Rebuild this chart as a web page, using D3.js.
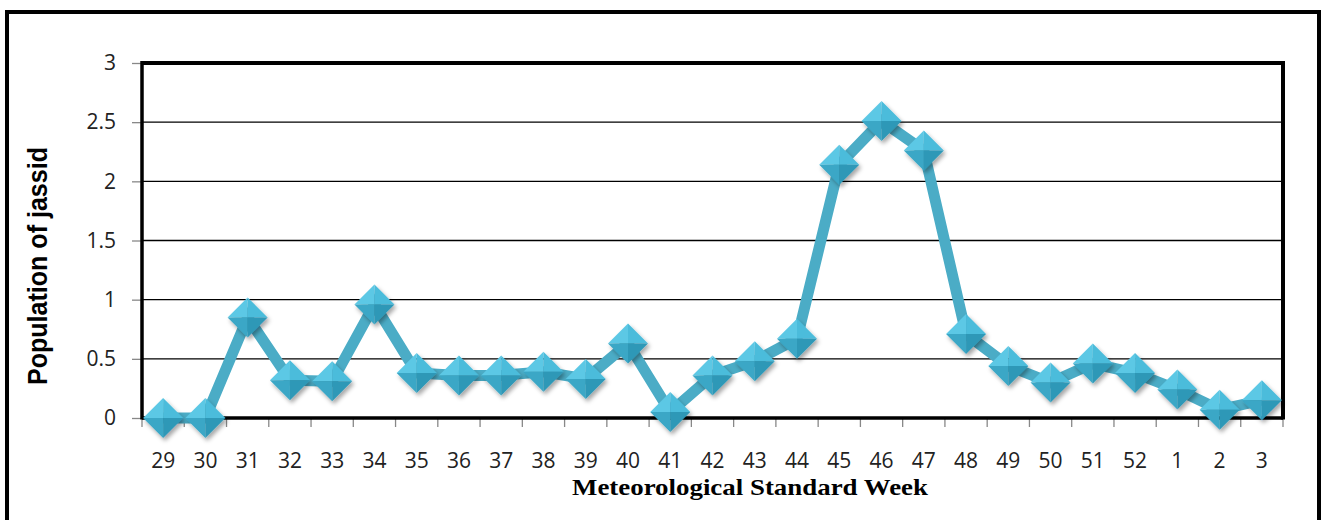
<!DOCTYPE html>
<html>
<head>
<meta charset="utf-8">
<script src="https://cdn.jsdelivr.net/npm/d3@7.9.0/dist/d3.min.js"></script>
<style>
  body { margin: 0; background: #fff; }
  svg { display: block; }
</style>
</head>
<body>
<svg id="chart"></svg>
<script>
// Weekly data (meteorological standard weeks)
const weeks = ["29","30","31","32","33","34","35","36","37","38","39","40","41","42","43","44","45","46","47","48","49","50","51","52","1","2","3"];
const jassid = [0, 0, 0.85, 0.32, 0.31, 0.96, 0.38, 0.36, 0.36, 0.39, 0.33, 0.63, 0.05, 0.36, 0.48, 0.67, 2.14, 2.51, 2.26, 0.71, 0.44, 0.30, 0.46, 0.38, 0.24, 0.07, 0.15];
const yTicks = [0, 0.5, 1, 1.5, 2, 2.5, 3];

const W = 1322, H = 520;
const margin = { top: 63, right: 39, bottom: 102, left: 142 };

const svg = d3.select("#chart").attr("width", W).attr("height", H);

// outer frame
svg.append("rect")
    .attr("x", 7).attr("y", 12)
    .attr("width", 1312).attr("height", 530)
    .attr("fill", "none").attr("stroke", "#000").attr("stroke-width", 4);

const x = d3.scaleBand().domain(weeks).range([margin.left, W - margin.right]).padding(0);
const y = d3.scaleLinear().domain([0, 3]).range([H - margin.bottom, margin.top]);

const defs = svg.append("defs");
const shadow = defs.append("filter").attr("id", "shadow")
    .attr("x", "-50%").attr("y", "-50%").attr("width", "200%").attr("height", "200%");
shadow.append("feDropShadow")
    .attr("dx", 2).attr("dy", 3).attr("stdDeviation", 2)
    .attr("flood-color", "#000").attr("flood-opacity", 0.35);

// gridlines
svg.append("g")
    .selectAll("line")
    .data(yTicks.filter(d => d > 0 && d < 3))
    .join("line")
    .attr("x1", margin.left).attr("x2", W - margin.right)
    .attr("y1", d => y(d)).attr("y2", d => y(d))
    .attr("stroke", "#000").attr("stroke-width", 1.3);

// y axis
const yAxis = svg.append("g")
    .attr("transform", `translate(${margin.left},0)`)
    .call(d3.axisLeft(y).tickValues(yTicks).tickSize(10).tickPadding(16).tickFormat(d3.format("")));
yAxis.select(".domain").remove();
yAxis.selectAll(".tick line").attr("stroke", "#888").attr("stroke-width", 1.3);
yAxis.selectAll("text")
    .attr("font-family", "'Open Sans', 'Noto Sans', sans-serif")
    .attr("font-size", 21).attr("fill", "#222");

// x axis labels
const xAxis = svg.append("g")
    .attr("transform", `translate(0,${y(0)})`)
    .call(d3.axisBottom(x).tickSize(0).tickPadding(35));
xAxis.select(".domain").remove();
xAxis.selectAll("text")
    .attr("font-family", "'Open Sans', 'Noto Sans', sans-serif")
    .attr("font-size", 21).attr("fill", "#222");

// x ticks at band edges
const edges = weeks.map(w => x(w)).concat([x.range()[1]]);
svg.append("g")
    .selectAll("line")
    .data(edges)
    .join("line")
    .attr("x1", d => d).attr("x2", d => d)
    .attr("y1", y(0)).attr("y2", y(0) + 9)
    .attr("stroke", "#888").attr("stroke-width", 1.3);

// plot frame
svg.append("line")
    .attr("x1", margin.left).attr("x2", W - margin.right)
    .attr("y1", y(3)).attr("y2", y(3))
    .attr("stroke", "#000").attr("stroke-width", 4);
svg.append("line")
    .attr("x1", W - margin.right).attr("x2", W - margin.right)
    .attr("y1", y(3) - 2).attr("y2", y(0) + 1.5)
    .attr("stroke", "#000").attr("stroke-width", 4);
svg.append("line")
    .attr("x1", margin.left).attr("x2", margin.left)
    .attr("y1", y(3) - 2).attr("y2", y(0) + 1.5)
    .attr("stroke", "#000").attr("stroke-width", 3.5);
svg.append("line")
    .attr("x1", margin.left).attr("x2", W - margin.right)
    .attr("y1", y(0)).attr("y2", y(0))
    .attr("stroke", "#000").attr("stroke-width", 3.5);

// series line
const pts = weeks.map((w, i) => [x(w) + x.bandwidth() / 2, y(jassid[i])]);
svg.append("path")
    .datum(pts)
    .attr("d", d3.line())
    .attr("fill", "none")
    .attr("stroke", "#4BACC6")
    .attr("stroke-width", 11)
    .attr("stroke-linejoin", "miter");

// diamond markers with bevel faces
const r = 20;
const faces = [
    { d: `M0,${-r} L${-r},0 L0,0 Z`, c: "#5CC8E5" },
    { d: `M0,${-r} L${r},0 L0,0 Z`, c: "#4CBCDB" },
    { d: `M${-r},0 L0,${r} L0,0 Z`, c: "#3AA7C6" },
    { d: `M${r},0 L0,${r} L0,0 Z`, c: "#2F98B7" }
];
const marks = svg.append("g")
    .selectAll("g")
    .data(pts)
    .join("g")
    .attr("transform", d => `translate(${d[0]},${d[1]})`)
    .attr("filter", "url(#shadow)");
marks.selectAll("path")
    .data(faces)
    .join("path")
    .attr("d", f => f.d)
    .attr("fill", f => f.c);

// axis titles
svg.append("text")
    .attr("transform", `translate(47,266) rotate(-90)`)
    .attr("text-anchor", "middle")
    .attr("font-family", "'Liberation Sans Narrow', 'Liberation Sans', sans-serif")
    .attr("font-weight", "bold")
    .attr("font-size", 28)
    .attr("textLength", 238)
    .attr("lengthAdjust", "spacingAndGlyphs")
    .attr("fill", "#000")
    .text("Population of jassid");

svg.append("text")
    .attr("x", 750).attr("y", 495)
    .attr("text-anchor", "middle")
    .attr("font-family", "'Liberation Serif', 'Times New Roman', serif")
    .attr("font-weight", "bold")
    .attr("font-size", 24)
    .attr("textLength", 356)
    .attr("lengthAdjust", "spacingAndGlyphs")
    .attr("fill", "#000")
    .text("Meteorological Standard Week");
</script>
</body>
</html>
